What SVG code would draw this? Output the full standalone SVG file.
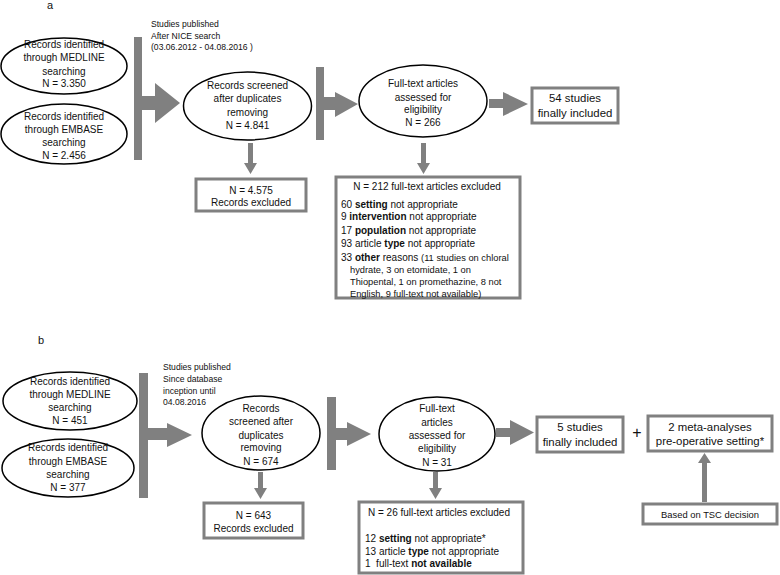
<svg xmlns="http://www.w3.org/2000/svg" width="780" height="575" viewBox="0 0 780 575">
<style>
text{font-family:"Liberation Sans",Arial,sans-serif;fill:#111;}
.t{font-size:10px;text-anchor:middle;}
.l{font-size:10px;}
.p{font-size:9.3px;}
.s{font-size:8.6px;}
.big{font-size:11.4px;text-anchor:middle;}
.lab{font-size:11px;}
.el{fill:#fff;stroke:#000;stroke-width:1.5;}
.bx{fill:#fff;stroke:#808080;stroke-width:3;}
.ar{fill:#808080;stroke:none;}
.b{font-weight:bold;}
</style>
<rect width="780" height="575" fill="#fff"/>
<text class="lab" x="47" y="9">a</text>
<text class="lab" x="38" y="344">b</text>

<g id="connectors">
<!-- a -->
<rect class="ar" x="134" y="37" width="8" height="123"/>
<polygon class="ar" points="142,96 155,96 155,83 180,103 155,123 155,110 142,110"/>
<rect class="ar" x="316" y="67" width="8" height="73"/>
<polygon class="ar" points="324,97 335,97 335,92 358,104 335,117 335,110 324,110"/>
<polygon class="ar" points="489,99 503,99 503,92 528,104 503,116 503,108 489,108"/>
<polygon class="ar" points="248,143 253,143 253,163 257,163 250.5,174 244,163 248,163"/>
<polygon class="ar" points="421,143 426,143 426,163 430,163 423.5,174 417,163 421,163"/>
<!-- b -->
<rect class="ar" x="139" y="373" width="9" height="125"/>
<polygon class="ar" points="148,428 167,428 167,423 192,435 167,447 167,440 148,440"/>
<rect class="ar" x="327" y="397" width="9" height="73"/>
<polygon class="ar" points="336,428 347,428 347,422 371,434 347,446 347,440 336,440"/>
<polygon class="ar" points="496,428 510,428 510,420 534,432.5 510,445 510,437 496,437"/>
<polygon class="ar" points="258,472 263,472 263,488 267,488 260.5,499 254,488 258,488"/>
<polygon class="ar" points="433,472 438,472 438,488 442,488 435.5,499 429,488 433,488"/>
<polygon class="ar" points="702,502 707,502 707,463 711,463 704.5,453 698,463 702,463"/>
</g>

<g id="a_medline">
<ellipse class="el" cx="64" cy="66" rx="63" ry="28"/>
<text class="t" x="64" y="47.5">Records identified</text>
<text class="t" x="64" y="61">through MEDLINE</text>
<text class="t" x="64" y="74.5">searching</text>
<text class="t" x="64" y="87">N = 3.350</text>
</g>
<g id="a_embase">
<ellipse class="el" cx="64" cy="134" rx="63" ry="30"/>
<text class="t" x="64" y="119.5">Records identified</text>
<text class="t" x="64" y="133">through EMBASE</text>
<text class="t" x="64" y="146">searching</text>
<text class="t" x="64" y="158.5">N = 2.456</text>
</g>
<g id="a_note">
<text class="s" x="151" y="27">Studies published</text>
<text class="s" x="151" y="38.5">After NICE search</text>
<text class="s" x="151" y="50">(03.06.2012 - 04.08.2016 )</text>
</g>
<g id="a_screened">
<ellipse class="el" cx="247.5" cy="106" rx="64" ry="34"/>
<text class="t" x="247.5" y="88.5">Records screened</text>
<text class="t" x="247.5" y="102">after duplicates</text>
<text class="t" x="247.5" y="115.5">removing</text>
<text class="t" x="247.5" y="128.5">N = 4.841</text>
</g>
<g id="a_excluded1">
<rect class="bx" x="196" y="179" width="110" height="32"/>
<text class="t" x="251" y="193.5">N = 4.575</text>
<text class="t" x="251" y="205.5">Records excluded</text>
</g>
<g id="a_fulltext">
<ellipse class="el" cx="423" cy="101" rx="64" ry="36"/>
<text class="t" x="423" y="86.5">Full-text articles</text>
<text class="t" x="423" y="100.5">assessed for</text>
<text class="t" x="423" y="112.5">eligibility</text>
<text class="t" x="423" y="125.5">N = 266</text>
</g>
<g id="a_included">
<rect class="bx" x="532" y="88" width="86" height="35"/>
<text class="big" x="575" y="102">54 studies</text>
<text class="big" x="575" y="117">finally included</text>
</g>
<g id="a_excluded2">
<rect class="bx" x="336" y="177" width="184" height="121"/>
<text class="t" x="427" y="189.5">N = 212 full-text articles excluded</text>
<text class="l" x="341" y="207.5">60 <tspan class="b">setting</tspan> not appropriate</text>
<text class="l" x="341" y="220">9 <tspan class="b">intervention</tspan> not appropriate</text>
<text class="l" x="341" y="233.5">17 <tspan class="b">population</tspan> not appropriate</text>
<text class="l" x="341" y="246.5">93 article <tspan class="b">type</tspan> not appropriate</text>
<text class="l" x="341" y="260.5">33 <tspan class="b">other</tspan> reasons <tspan class="p">(11 studies on chloral</tspan></text>
<text class="p" x="350" y="272.5">hydrate, 3 on etomidate, 1 on</text>
<text class="p" x="350" y="285">Thiopental, 1 on promethazine, 8 not</text>
<text class="p" x="350" y="296.5">English, 9 full-text not available)</text>
</g>

<g id="b_medline">
<ellipse class="el" cx="70" cy="401" rx="67" ry="29"/>
<text class="t" x="70" y="384.5">Records identified</text>
<text class="t" x="70" y="397.5">through MEDLINE</text>
<text class="t" x="70" y="410.5">searching</text>
<text class="t" x="70" y="423.5">N = 451</text>
</g>
<g id="b_embase">
<ellipse class="el" cx="68" cy="468" rx="66" ry="29"/>
<text class="t" x="68" y="450.5">Records identified</text>
<text class="t" x="68" y="465">through EMBASE</text>
<text class="t" x="68" y="477.5">searching</text>
<text class="t" x="68" y="490.5">N = 377</text>
</g>
<g id="b_note">
<text class="s" x="163" y="370">Studies published</text>
<text class="s" x="163" y="382">Since database</text>
<text class="s" x="163" y="393.5">inception until</text>
<text class="s" x="163" y="405">04.08.2016</text>
</g>
<g id="b_screened">
<ellipse class="el" cx="261" cy="433" rx="59" ry="37"/>
<text class="t" x="261" y="411.5">Records</text>
<text class="t" x="261" y="424.5">screened after</text>
<text class="t" x="261" y="438.5">duplicates</text>
<text class="t" x="261" y="450.5">removing</text>
<text class="t" x="261" y="464.5">N = 674</text>
</g>
<g id="b_excluded1">
<rect class="bx" x="204" y="503" width="99" height="35"/>
<text class="t" x="253.5" y="518.5">N = 643</text>
<text class="t" x="253.5" y="531.5">Records excluded</text>
</g>
<g id="b_fulltext">
<ellipse class="el" cx="437" cy="434" rx="58" ry="37"/>
<text class="t" x="437" y="411.5">Full-text</text>
<text class="t" x="437" y="425.5">articles</text>
<text class="t" x="437" y="438.5">assessed for</text>
<text class="t" x="437" y="451.5">eligibility</text>
<text class="t" x="437" y="465.5">N =  31</text>
</g>
<g id="b_included">
<rect class="bx" x="537" y="417" width="86" height="35"/>
<text class="big" x="580" y="431">5 studies</text>
<text class="big" x="580" y="446">finally included</text>
</g>
<g id="b_plus">
<text class="big" x="637" y="438" style="font-size:16px">+</text>
</g>
<g id="b_meta">
<rect class="bx" x="648" y="416" width="124" height="35"/>
<text class="big" x="710" y="431">2 meta-analyses</text>
<text class="big" x="710" y="445">pre-operative setting*</text>
</g>
<g id="b_tsc">
<rect class="bx" x="643" y="504" width="134" height="20"/>
<text class="t" x="710" y="517.5" style="font-size:9.4px">Based on TSC decision</text>
</g>
<g id="b_excluded2">
<rect class="bx" x="359" y="502" width="164" height="71"/>
<text class="t" x="439" y="515.5">N = 26 full-text articles excluded</text>
<text class="l" x="365" y="541.5">12 <tspan class="b">setting</tspan> not appropriate*</text>
<text class="l" x="365" y="554.5">13 article <tspan class="b">type</tspan> not appropriate</text>
<text class="l" x="365" y="566.5" xml:space="preserve">1  full-text <tspan class="b">not available</tspan></text>
</g>
</svg>
